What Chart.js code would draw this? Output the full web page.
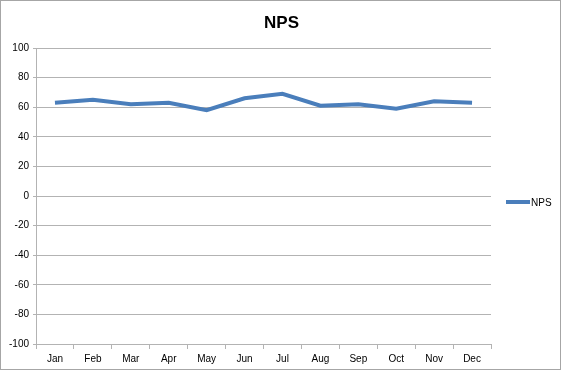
<!DOCTYPE html>
<html><head><meta charset="utf-8">
<script src="https://cdn.jsdelivr.net/npm/chart.js@4"></script>
<style>
html,body{margin:0;padding:0;background:#fff;}
#wrap{position:relative;width:561px;height:370px;box-sizing:border-box;border:1px solid #a6a6a6;}
canvas{display:block;}
</style></head>
<body>
<div id="wrap"><canvas id="c" width="559" height="368"></canvas></div>
<script>
const categories = ["Jan","Feb","Mar","Apr","May","Jun","Jul","Aug","Sep","Oct","Nov","Dec"];
const npsValues = [63, 65, 62, 63, 58, 66, 69, 61, 62, 59, 64, 63];
const seriesName = "NPS";
const chartTitle = "NPS";
const yMin = -100, yMax = 100, yStep = 20;

const FONT = "'Liberation Sans', Arial, sans-serif";
const lineColor = "#4a7ebb";
const gridColor = "#b3b3b3";

// Title centred on the whole chart, legend at right centred on the plot (Excel style)
const excelDecor = {
  id: 'excelDecor',
  afterDraw(chart) {
    const ctx = chart.ctx;
    const area = chart.chartArea;
    const ds = chart.data.datasets[0];
    ctx.save();
    // title
    ctx.fillStyle = '#000';
    ctx.font = "bold 17px " + FONT;
    ctx.textAlign = 'center';
    ctx.textBaseline = 'middle';
    ctx.fillText(chartTitle, chart.width / 2 + 1, 22);
    // legend
    const y = (area.top + area.bottom) / 2 + 6;
    const x0 = area.right + 15;
    ctx.strokeStyle = ds.borderColor;
    ctx.lineWidth = ds.borderWidth;
    ctx.lineCap = 'butt';
    ctx.beginPath();
    ctx.moveTo(x0, y);
    ctx.lineTo(x0 + 24, y);
    ctx.stroke();
    ctx.font = "10px " + FONT;
    ctx.textAlign = 'left';
    ctx.fillText(ds.label, x0 + 25, y + 1);
    ctx.restore();
  }
};

new Chart(document.getElementById('c'), {
  type: 'line',
  data: {
    labels: categories,
    datasets: [{
      label: seriesName,
      data: npsValues,
      borderColor: lineColor,
      backgroundColor: lineColor,
      borderWidth: 4,
      pointRadius: 0,
      pointHoverRadius: 0,
      tension: 0
    }]
  },
  plugins: [excelDecor],
  options: {
    responsive: false,
    animation: false,
    devicePixelRatio: 1,
    layout: { padding: { left: 4, right: 69, top: 47, bottom: 0 } },
    plugins: {
      title: { display: false },
      legend: { display: false },
      tooltip: { enabled: false }
    },
    scales: {
      x: {
        offset: true,
        grid: { display: true, drawOnChartArea: false, color: gridColor, tickLength: 5, offset: true },
        border: { color: gridColor },
        ticks: { color: '#000', font: { family: FONT, size: 10 }, padding: 4, maxRotation: 0 }
      },
      y: {
        min: yMin, max: yMax,
        ticks: { stepSize: yStep, color: '#000', font: { family: FONT, size: 10 }, padding: 4 },
        grid: { color: gridColor, tickLength: 3 },
        border: { color: gridColor }
      }
    }
  }
});
</script>
</body></html>
